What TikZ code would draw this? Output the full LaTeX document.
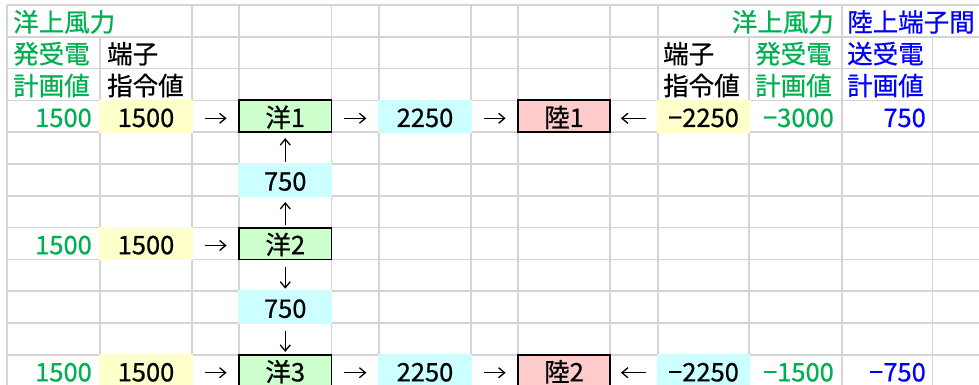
\documentclass[tikz,border=0pt]{standalone}
\usepackage{fontspec}
\setmainfont{Noto Sans CJK JP}[RawFeature={embolden=0.6}]
\usetikzlibrary{arrows.meta}
\definecolor{gridgray}{RGB}{212,212,212}
\definecolor{xlgreen}{RGB}{0,176,80}
\definecolor{xlblue}{RGB}{0,0,255}
\definecolor{cyel}{RGB}{255,255,204}
\definecolor{ccyan}{RGB}{204,255,255}
\definecolor{cgreen}{RGB}{204,255,204}
\definecolor{cpink}{RGB}{255,204,204}
\begin{document}
\begin{tikzpicture}[x=1pt,y=-1pt,
  font=\fontsize{25.5}{30}\selectfont,
  gridline/.style={draw=gridgray, line width=1.6pt},
  cell/.style={inner sep=0pt, text height=23.4pt, text depth=2pt},
  fillcell/.style={cell, minimum width=93.8pt, minimum height=33.4pt},
  yel/.style={fillcell, fill=cyel},
  cya/.style={fillcell, fill=ccyan},
  yobox/.style={cell, minimum width=92.5pt, minimum height=31.8pt, fill=cgreen, draw=black, line width=1.8pt},
  rikubox/.style={cell, minimum width=92pt, minimum height=31.8pt, fill=cpink, draw=black, line width=1.8pt},
  lt/.style={inner sep=0pt, anchor=base west},
  rt/.style={inner sep=0pt, anchor=base east},
  flow/.style={-{Straight Barb[length=6pt,width=10pt]}, line width=1.3pt},
  hflow/.style={flow, shorten <=11.5pt, shorten >=11.5pt},
]
\useasboundingbox (0,0) rectangle (979,385);
\fill[white] (0,0) rectangle (979,385);
% grid
\foreach \i in {0,...,11}
  \draw[gridline] (7,{5+31.8*\i}) -- (979,{5+31.8*\i});
\foreach \xx in {7,192,239,331.5,379,471,518,610,658,842}
  \draw[gridline] (\xx,5) -- (\xx,386);
\foreach \xx in {100,749,932.5}
  \draw[gridline] (\xx,36.8) -- (\xx,386);

% header texts
\node[lt,text=xlgreen] (h1) at (13,31.6) {洋上風力};
\node[lt,text=xlgreen] (h2) at (13,63.4) {発受電};
\node[lt,text=xlgreen] (h3) at (13,95.2) {計画値};
\node[lt] (h4) at (107,63.4) {端子};
\node[lt] (h5) at (107,95.2) {指令値};
\node[lt] (h6) at (663,63.4) {端子};
\node[lt] (h7) at (663,95.2) {指令値};
\node[rt,text=xlgreen] (h8) at (834,31.6) {洋上風力};
\node[lt,text=xlgreen] (h9) at (755,63.4) {発受電};
\node[lt,text=xlgreen] (h10) at (755,95.2) {計画値};
\node[lt,text=xlblue] (h11) at (847,31.6) {陸上端子間};
\node[lt,text=xlblue] (h12) at (847,63.4) {送受電};
\node[lt,text=xlblue] (h13) at (847,95.2) {計画値};

% row 4
\node[rt,text=xlgreen] (p1) at (92,127) {1500};
\node[yel] (t1) at (146,116.3) {1500};
\node[yobox] (yo1) at (285.25,116.3) {洋1};
\node[cya] (s1) at (425,116.3) {2250};
\node[rikubox] (ri1) at (564,116.3) {陸1};
\node[yel, minimum width=92.6pt] (t4) at (703.5,116.3) {−2250};
\node[rt,text=xlgreen] (p4) at (834,127) {−3000};
\node[rt,text=xlblue] (q1) at (926,127) {750};

% row 6
\node[cya] (v1) at (285.25,179.9) {750};

% row 8
\node[rt,text=xlgreen] (p2) at (92,254.2) {1500};
\node[yel] (t2) at (146,243.5) {1500};
\node[yobox] (yo2) at (285.25,243.5) {洋2};

% row 10
\node[cya] (v2) at (285.25,307.1) {750};

% row 12
\node[rt,text=xlgreen] (p3) at (92,381.4) {1500};
\node[yel] (t3) at (146,370.7) {1500};
\node[yobox] (yo3) at (285.25,370.7) {洋3};
\node[cya] (s2) at (425,370.7) {2250};
\node[rikubox] (ri2) at (564,370.7) {陸2};
\node[cya, minimum width=92.6pt] (t5) at (703.5,370.7) {−2250};
\node[rt,text=xlgreen] (p5) at (834,381.4) {−1500};
\node[rt,text=xlblue] (q2) at (926,381.4) {−750};

% horizontal arrows
\draw[hflow] ([yshift=-2pt]t1.east) -- ([yshift=-2pt]yo1.west);
\draw[hflow] ([yshift=-2pt]yo1.east) -- ([yshift=-2pt]s1.west);
\draw[hflow] ([yshift=-2pt]s1.east) -- ([yshift=-2pt]ri1.west);
\draw[hflow, shorten >=10pt] ([yshift=-2pt]t4.west) -- ([yshift=-2pt]ri1.east);
\draw[hflow] ([yshift=-2pt]t2.east) -- ([yshift=-2pt]yo2.west);
\draw[hflow] ([yshift=-2pt]t3.east) -- ([yshift=-2pt]yo3.west);
\draw[hflow] ([yshift=-2pt]yo3.east) -- ([yshift=-2pt]s2.west);
\draw[hflow] ([yshift=-2pt]s2.east) -- ([yshift=-2pt]ri2.west);
\draw[hflow, shorten >=10pt] ([yshift=-2pt]t5.west) -- ([yshift=-2pt]ri2.east);

% vertical arrows
\draw[flow, shorten <=1.5pt, shorten >=5pt] (v1) -- (yo1);
\draw[flow, shorten <=1.7pt, shorten >=5.2pt] (yo2) -- (v1);
\draw[flow, shorten <=6.7pt, shorten >=1.5pt] (yo2) -- (v2);
\draw[flow, shorten <=7pt, shorten >=2pt] (v2) -- (yo3);
\end{tikzpicture}
\end{document}
